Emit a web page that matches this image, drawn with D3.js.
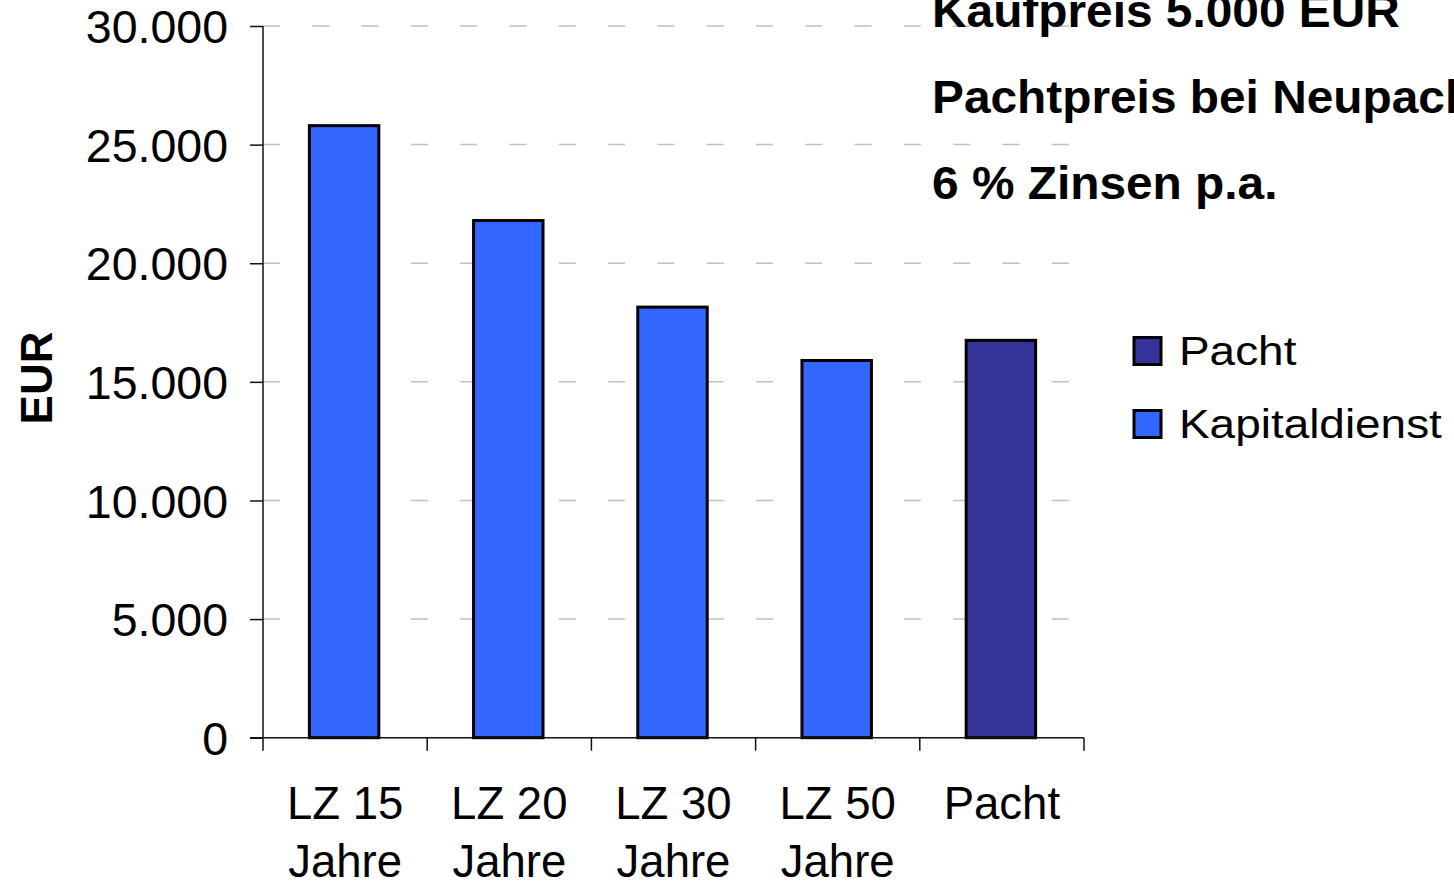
<!DOCTYPE html>
<html>
<head>
<meta charset="utf-8">
<script src="https://cdn.jsdelivr.net/npm/d3@7"></script>
<style>
  body { margin: 0; background: #fff; }
  svg { display: block; font-family: "Liberation Sans", Arial, sans-serif; }
</style>
</head>
<body>
<div id="root"></div>
<script>
// data
const categories = ["LZ 15 Jahre", "LZ 20 Jahre", "LZ 30 Jahre", "LZ 50 Jahre", "Pacht"];
const series = ["Kapitaldienst", "Kapitaldienst", "Kapitaldienst", "Kapitaldienst", "Pacht"];
const values = [25800, 21800, 18150, 15900, 16750];
const yTicks = [0, 5000, 10000, 15000, 20000, 25000, 30000];
const legendItems = ["Pacht", "Kapitaldienst"];
const titleLines = ["Kaufpreis 5.000 EUR", "Pachtpreis bei Neupacht", "6 % Zinsen p.a."];

const colors = { Kapitaldienst: "#3366ff", Pacht: "#333399" };

const W = 1454;
const H = 885;
const plot = { left: 263, right: 1084, top: 26, bottom: 737.7 };

const de = d3.formatLocale({ decimal: ",", thousands: ".", grouping: [3], currency: ["", " €"] });
const fmt = de.format(",.0f");

const x = d3.scaleBand().domain(categories).range([plot.left, plot.right]).padding(0);
const y = d3.scaleLinear().domain([0, 30000]).range([plot.bottom, plot.top]);

const svg = d3
  .select("#root")
  .append("svg")
  .attr("width", W)
  .attr("height", H);

// dashed gridlines
svg
  .append("g")
  .selectAll("line")
  .data(yTicks.filter((d) => d > 0))
  .enter()
  .append("line")
  .attr("x1", plot.left)
  .attr("x2", plot.right)
  .attr("y1", (d) => y(d))
  .attr("y2", (d) => y(d))
  .attr("stroke", "#c0c0c0")
  .attr("stroke-width", 1.5)
  .attr("stroke-dasharray", "17,32.3");

// bars
const barW = x.bandwidth() * 0.423;
svg
  .append("g")
  .selectAll("rect")
  .data(values)
  .enter()
  .append("rect")
  .attr("x", (d, i) => x(categories[i]) + x.bandwidth() / 2 - barW / 2 - 1)
  .attr("y", (d) => y(d))
  .attr("width", barW)
  .attr("height", (d) => y(0) - y(d))
  .attr("fill", (d, i) => colors[series[i]])
  .attr("stroke", "#000")
  .attr("stroke-width", 3);

// y axis
const yAxis = d3.axisLeft(y).tickValues(yTicks).tickSize(13).tickPadding(22).tickFormat(fmt);
const gy = svg
  .append("g")
  .attr("transform", `translate(${plot.left}, 0)`)
  .call(yAxis);
gy.select(".domain").remove();
gy.selectAll(".tick line").attr("stroke", "#111").attr("stroke-width", 1.5);
gy.selectAll(".tick text")
  .attr("font-size", 46.5)
  .attr("font-family", "Liberation Sans, Arial, sans-serif")
  .attr("fill", "#000")
  .attr("dy", "0.36em");

// axis lines
svg
  .append("line")
  .attr("x1", plot.left)
  .attr("x2", plot.left)
  .attr("y1", plot.top)
  .attr("y2", plot.bottom + 13)
  .attr("stroke", "#111")
  .attr("stroke-width", 1.5);
svg
  .append("line")
  .attr("x1", plot.left - 13)
  .attr("x2", plot.right)
  .attr("y1", y(0))
  .attr("y2", y(0))
  .attr("stroke", "#111")
  .attr("stroke-width", 1.5);

// category boundary ticks
const bounds = categories.map((c) => x(c)).concat([plot.right]);
svg
  .append("g")
  .selectAll("line")
  .data(bounds.slice(1))
  .enter()
  .append("line")
  .attr("x1", (d) => d)
  .attr("x2", (d) => d)
  .attr("y1", y(0))
  .attr("y2", y(0) + 13)
  .attr("stroke", "#111")
  .attr("stroke-width", 1.5);

// category labels (two lines)
const xl = svg
  .append("g")
  .selectAll("text")
  .data(categories)
  .enter()
  .append("text")
  .attr("text-anchor", "middle")
  .attr("font-size", 45.5)
  .attr("fill", "#000");
xl.each(function (d) {
  const parts = d.startsWith("LZ") ? [d.split(" ").slice(0, 2).join(" "), d.split(" ")[2]] : [d];
  parts.forEach((p, k) => {
    d3.select(this)
      .append("tspan")
      .attr("x", x(d) + x.bandwidth() / 2)
      .attr("y", 819 + k * 58)
      .text(p);
  });
});

// y title
svg
  .append("text")
  .attr("transform", "translate(51.5, 378) rotate(-90)")
  .attr("text-anchor", "middle")
  .attr("font-size", 44)
  .attr("font-weight", "bold")
  .attr("fill", "#000")
  .text("EUR");

// annotation text, top right
svg
  .append("g")
  .selectAll("text")
  .data(titleLines)
  .enter()
  .append("text")
  .attr("transform", (d, i) => `translate(932, ${26.7 + i * 86.2}) scale(1.04, 1)`)
  .attr("font-size", 46)
  .attr("font-weight", "bold")
  .attr("fill", "#000")
  .text((d) => d);

// legend
const lg = svg
  .append("g")
  .selectAll("g")
  .data(legendItems)
  .enter()
  .append("g")
  .attr("transform", (d, i) => `translate(1134, ${337.5 + i * 73})`);
lg.append("rect")
  .attr("width", 27)
  .attr("height", 27)
  .attr("fill", (d) => colors[d])
  .attr("stroke", "#000")
  .attr("stroke-width", 3);
lg.append("text")
  .attr("transform", "translate(45, 27.5) scale(1.12, 1)")
  .attr("font-size", 41)
  .attr("fill", "#000")
  .text((d) => d);
</script>
</body>
</html>
